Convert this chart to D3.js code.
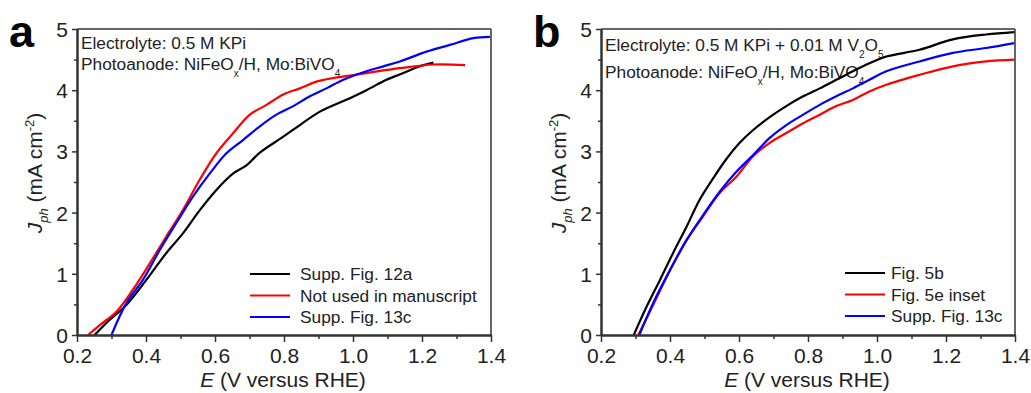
<!DOCTYPE html>
<html><head><meta charset="utf-8">
<script src="https://cdn.jsdelivr.net/npm/d3@7"></script>
<style>
html,body{margin:0;padding:0;background:#fff;}
svg{display:block;font-family:"Liberation Sans",Arial,sans-serif;}
</style></head><body>
<svg id="c" width="1031" height="393"></svg>
<script>
// ---- Data ----
const xTicks = [0.2, 0.4, 0.6, 0.8, 1.0, 1.2, 1.4];
const yTicks = [0, 1, 2, 3, 4, 5];

// Panel a
const aBlackE = [0.251,0.295,0.343,0.401,0.459,0.507,0.556,0.604,0.653,0.691,0.730,0.798,0.846,0.904,0.991,1.039,1.097,1.146,1.194,1.233];
const aBlackJ = [0,0.25,0.49,0.90,1.34,1.66,2.04,2.37,2.64,2.77,2.98,3.24,3.43,3.65,3.87,4.00,4.17,4.28,4.39,4.45];
const aRedE = [0.232,0.266,0.314,0.362,0.411,0.459,0.507,0.556,0.604,0.653,0.701,0.749,0.798,0.846,0.894,0.943,0.991,1.039,1.136,1.233,1.325];
const aRedJ = [0,0.16,0.38,0.74,1.17,1.61,2.04,2.54,2.97,3.30,3.60,3.76,3.93,4.03,4.14,4.20,4.24,4.28,4.36,4.42,4.41];
const aBlueE = [0.300,0.343,0.391,0.440,0.488,0.536,0.585,0.633,0.682,0.730,0.778,0.827,0.875,0.923,0.972,1.039,1.088,1.136,1.213,1.281,1.349,1.397];
const aBlueJ = [0,0.52,0.90,1.39,1.83,2.26,2.64,2.97,3.19,3.41,3.60,3.74,3.90,4.03,4.17,4.31,4.39,4.47,4.63,4.74,4.85,4.87];
const aLabels = ["Supp. Fig. 12a", "Not used in manuscript", "Supp. Fig. 13c"];

// Panel b
const bBlackE = [0.295,0.332,0.371,0.409,0.448,0.486,0.525,0.564,0.602,0.641,0.689,0.737,0.786,0.834,0.882,0.930,0.978,1.027,1.123,1.220,1.316,1.398];
const bBlackJ = [0,0.46,0.90,1.34,1.77,2.21,2.56,2.88,3.14,3.35,3.56,3.74,3.90,4.03,4.17,4.31,4.44,4.55,4.66,4.83,4.91,4.95];
const bRedE = [0.308,0.351,0.400,0.448,0.496,0.544,0.593,0.641,0.689,0.737,0.786,0.834,0.882,0.930,0.978,1.027,1.123,1.220,1.316,1.398];
const bRedJ = [0,0.49,1.06,1.55,1.94,2.32,2.59,2.92,3.14,3.30,3.46,3.60,3.74,3.84,3.98,4.09,4.25,4.39,4.47,4.50];
const bBlueE = [0.311,0.351,0.400,0.448,0.496,0.544,0.593,0.641,0.689,0.737,0.786,0.834,0.882,0.930,0.978,1.027,1.123,1.220,1.316,1.398];
const bBlueJ = [0,0.52,1.06,1.55,1.96,2.34,2.67,2.94,3.22,3.43,3.60,3.76,3.90,4.03,4.17,4.31,4.47,4.61,4.69,4.77];
const bLabels = ["Fig. 5b", "Fig. 5e inset", "Supp. Fig. 13c"];

const colors = ["#000000", "#ff0000", "#0000ff"];

// ---- Drawing ----
const svg = d3.select("#c");
const textCol = "#222";

function panel(cfg) {
  const x = d3.scaleLinear().domain([0.2, 1.4]).range([cfg.left, cfg.right]);
  const y = d3.scaleLinear().domain([0, 5]).range([335, 29]);
  const g = svg.append("g");

  const line = d3.line().x(d => x(d[0])).y(d => y(d[1])).curve(d3.curveCatmullRom.alpha(0.5));
  const defs = svg.append("defs");
  const cid = "clip" + cfg.letter;
  defs.append("clipPath").attr("id", cid).append("rect")
    .attr("x", cfg.left).attr("y", 28).attr("width", cfg.right - cfg.left).attr("height", 308);

  // annotations (drawn under curves)
  cfg.notes.forEach(n => {
    const t = g.append("text").attr("x", cfg.left + 4).attr("y", n.y).attr("font-size", 17.3).attr("fill", textCol);
    n.parts.forEach(p => {
      const ts = t.append("tspan").text(p[0]);
      if (p[1] === "sub") ts.attr("font-size", 10).attr("dy", 7);
      if (p[1] === "back") ts.attr("dy", -7);
    });
  });

  cfg.series.forEach((s, i) => {
    const pts = s[0].map((e, k) => [e, s[1][k]]);
    g.append("path").datum(pts).attr("d", line)
      .attr("fill", "none").attr("stroke", colors[i]).attr("stroke-width", 2.2)
      .attr("clip-path", `url(#${cid})`);
  });

  // frame top/right
  g.append("line").attr("x1", cfg.left).attr("x2", cfg.right).attr("y1", y(5)).attr("y2", y(5))
    .attr("stroke", "#333").attr("stroke-width", 1.5);
  g.append("line").attr("x1", cfg.right).attr("x2", cfg.right).attr("y1", y(5)).attr("y2", y(0))
    .attr("stroke", "#333").attr("stroke-width", 1.5);

  const xa = g.append("g").attr("transform", `translate(0,${y(0)})`)
    .call(d3.axisBottom(x).tickValues(xTicks).tickFormat(d3.format(".1f")).tickSize(7).tickSizeOuter(0));
  const xm = g.append("g").attr("transform", `translate(0,${y(0)})`)
    .call(d3.axisBottom(x).tickValues(d3.range(0.3, 1.4, 0.2)).tickFormat("").tickSize(4).tickSizeOuter(0));
  const ya = g.append("g").attr("transform", `translate(${cfg.left},0)`)
    .call(d3.axisLeft(y).tickValues(yTicks).tickFormat(d3.format("d")).tickSize(5).tickSizeOuter(0));
  const ym = g.append("g").attr("transform", `translate(${cfg.left},0)`)
    .call(d3.axisLeft(y).tickValues([0.5,1.5,2.5,3.5,4.5]).tickFormat("").tickSize(3).tickSizeOuter(0));
  [xa, xm, ya, ym].forEach(a => {
    a.select(".domain").attr("stroke", "#333").attr("stroke-width", 2);
    a.selectAll(".tick line").attr("stroke", "#333").attr("stroke-width", 1.5);
    a.selectAll("text").attr("font-family", "Liberation Sans, Arial, sans-serif").attr("font-size", 21).attr("fill", textCol);
  });
  xa.selectAll("text").attr("dy", null).attr("y", 28);
  ya.selectAll("text").attr("x", -9).attr("dy", "0.36em");

  const xt = g.append("text").attr("x", (cfg.left + cfg.right) / 2 - 1).attr("y", 387)
    .attr("text-anchor", "middle").attr("font-size", 21).attr("fill", textCol);
  xt.append("tspan").attr("font-style", "italic").text("E");
  xt.append("tspan").text(" (V versus RHE)");

  const yt = g.append("text").attr("transform", `translate(${cfg.left - 35},${173}) rotate(-90)`)
    .attr("text-anchor", "middle").attr("font-size", 21).attr("fill", textCol);
  yt.append("tspan").attr("font-style", "italic").text("J");
  yt.append("tspan").attr("font-style", "italic").attr("font-size", 13).attr("dy", 6).text("ph");
  yt.append("tspan").attr("dy", -6).text(" (mA cm");
  yt.append("tspan").attr("font-size", 13).attr("dy", -8).text("-2");
  yt.append("tspan").attr("dy", 8).text(")");

  g.append("text").attr("x", cfg.letterX).attr("y", 47).attr("font-size", 45).attr("font-weight", "bold")
    .attr("fill", "#000").text(cfg.letter);

  cfg.labels.forEach((lab, i) => {
    const ly = cfg.legY + i * 21.5;
    g.append("line").attr("x1", cfg.legX).attr("x2", cfg.legX + 40).attr("y1", ly).attr("y2", ly)
      .attr("stroke", colors[i]).attr("stroke-width", 2.2);
    g.append("text").attr("x", cfg.legX + cfg.legGap).attr("y", ly + 6).attr("font-size", 17.3)
      .attr("fill", textCol).text(lab);
  });
}

panel({
  letter: "a", letterX: 9, left: 77, right: 491,
  series: [[aBlackE, aBlackJ], [aRedE, aRedJ], [aBlueE, aBlueJ]],
  labels: aLabels, legX: 250, legY: 274, legGap: 50,
  notes: [
    {y: 49, parts: [["Electrolyte: 0.5 M KPi"]]},
    {y: 70, parts: [["Photoanode: NiFeO"], ["x", "sub"], ["/H, Mo:BiVO", "back"], ["4", "sub"]]}
  ]
});
panel({
  letter: "b", letterX: 533, left: 601, right: 1015,
  series: [[bBlackE, bBlackJ], [bRedE, bRedJ], [bBlueE, bBlueJ]],
  labels: bLabels, legX: 845, legY: 273, legGap: 46,
  notes: [
    {y: 51, parts: [["Electrolyte: 0.5 M KPi + 0.01 M V"], ["2", "sub"], ["O", "back"], ["5", "sub"]]},
    {y: 78, parts: [["Photoanode: NiFeO"], ["x", "sub"], ["/H, Mo:BiVO", "back"], ["4", "sub"]]}
  ]
});
</script>
</body></html>
